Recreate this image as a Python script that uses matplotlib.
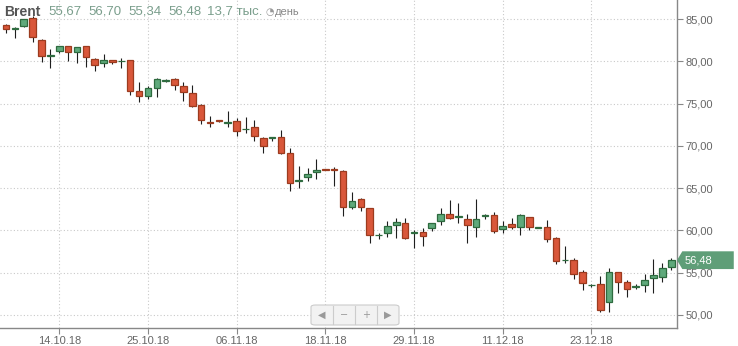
import numpy as np
import matplotlib.pyplot as plt
from matplotlib.patches import FancyBboxPatch, Polygon

# daily candles for Brent, oct-dec 2018 (one bar per trading day)
opens = [84.3, 83.8, 84.2, 85.1, 82.5, 80.6, 81.25, 81.8, 81.1, 81.8,
         80.3, 79.75, 80.15, 80.0, 80.15, 76.5, 75.95, 76.9, 77.7, 77.9,
         77.1, 76.3, 74.8, 72.85, 73.0, 72.75, 72.95, 71.95, 72.2, 70.95,
         70.95, 71.0, 69.1, 65.8, 66.3, 66.85, 67.3, 67.3, 67.05, 62.75,
         63.7, 62.6, 59.4, 59.65, 60.7, 60.85, 59.7, 59.8, 60.3, 61.1,
         61.9, 61.6, 61.35, 60.45, 61.7, 61.8, 60.15, 60.75, 60.45, 61.55,
         60.3, 60.4, 59.1, 56.45, 56.55, 55.1, 53.55, 53.7, 51.5, 55.05,
         53.95, 53.3, 53.6, 54.35, 54.55, 55.67]
highs = [84.4, 84.1, 85.0, 85.3, 82.6, 81.4, 81.8, 81.85, 81.7, 81.85,
         80.4, 80.85, 80.2, 80.4, 80.2, 77.5, 77.1, 78.0, 77.9, 78.0,
         77.5, 77.2, 75.0, 73.5, 73.05, 74.1, 73.3, 73.45, 73.0, 71.0,
         71.1, 71.9, 69.7, 67.6, 67.35, 68.45, 67.3, 67.5, 67.15, 64.6,
         63.8, 62.7, 59.65, 61.15, 61.45, 61.45, 60.1, 60.3, 60.85, 62.6,
         63.6, 63.3, 61.95, 63.7, 61.95, 62.2, 61.1, 61.45, 62.0, 61.6,
         60.4, 61.25, 59.2, 58.15, 56.7, 55.3, 53.7, 54.6, 55.5, 55.1,
         54.15, 53.65, 54.85, 56.6, 56.1, 56.70]
lows = [83.3, 82.7, 84.0, 82.3, 79.9, 79.2, 81.0, 80.0, 79.85, 79.3,
        78.85, 79.3, 79.7, 79.2, 76.0, 75.2, 75.5, 75.8, 77.5, 76.6,
        75.3, 74.6, 72.55, 72.25, 72.8, 72.25, 71.2, 71.5, 70.55, 69.2,
        70.6, 69.0, 64.7, 65.05, 65.9, 66.1, 67.2, 65.25, 61.75, 62.5,
        62.35, 58.5, 58.95, 59.2, 59.15, 58.95, 57.9, 58.1, 59.95, 60.7,
        61.3, 60.85, 58.5, 59.2, 61.4, 59.65, 59.65, 60.15, 59.4, 60.05,
        60.25, 58.65, 56.0, 56.1, 54.25, 52.95, 53.3, 50.4, 50.3, 52.65,
        52.1, 53.05, 52.7, 52.6, 53.95, 55.34]
closes = [83.8, 83.9, 85.0, 82.9, 80.6, 80.7, 81.8, 81.05, 81.65, 80.5,
          79.55, 80.1, 79.9, 80.05, 76.5, 75.95, 76.8, 77.9, 77.75, 77.15,
          76.4, 74.75, 73.0, 72.75, 72.9, 72.85, 71.8, 72.05, 71.2, 70.0,
          71.0, 69.1, 65.55, 65.95, 66.7, 67.15, 67.2, 67.2, 62.75, 63.5,
          62.75, 59.45, 59.5, 60.55, 61.05, 59.15, 59.8, 59.35, 60.85, 61.95,
          61.5, 61.7, 60.65, 61.4, 61.8, 59.95, 60.55, 60.4, 61.8, 60.45,
          60.35, 58.95, 56.35, 56.55, 54.8, 53.75, 53.6, 50.6, 55.1, 53.9,
          53.05, 53.4, 54.1, 54.75, 55.6, 56.48]

tick_idx = [6, 16, 26, 36, 46, 56, 66]
tick_labels = ['14.10.18', '25.10.18', '06.11.18', '18.11.18', '29.11.18', '11.12.18', '23.12.18']
price_ticks = [50, 55, 60, 65, 70, 75, 80, 85]

header_vals = ['55,67', '56,70', '55,34', '56,48']
volume_text = '13,7 тыс.'
last_label = '56,48'

up_fill, up_edge = '#5fa97b', '#2e6b3f'
dn_fill, dn_edge = '#d9573a', '#9c3b1f'
grey = '#666666'

plt.rcParams['font.family'] = ['Liberation Sans', 'DejaVu Sans']

fig = plt.figure(figsize=(7.38, 3.46), dpi=100)
ax = fig.add_axes([0, 18/346, 677/738, 328/346])

x = np.arange(len(opens))
o, h, l, c = map(np.array, (opens, highs, lows, closes))
up = c >= o

ax.vlines(x, l, h, color='#1e1e1e', lw=0.8, zorder=2)
body_lo = np.minimum(o, c)
body_h = np.maximum(np.abs(c - o), 0.05)
ax.bar(x[up], body_h[up], bottom=body_lo[up], width=0.74,
       color=up_fill, edgecolor=up_edge, lw=0.9, zorder=3)
ax.bar(x[~up], body_h[~up], bottom=body_lo[~up], width=0.74,
       color=dn_fill, edgecolor=dn_edge, lw=0.9, zorder=3)

ax.set_xlim(-0.68, 75.65)
ax.set_ylim(48.46, 87.25)

ax.set_xticks(tick_idx)
ax.set_xticklabels(tick_labels)
ax.yaxis.tick_right()
ax.set_yticks(price_ticks)
ax.set_yticklabels([f'{p:.2f}'.replace('.', ',') for p in price_ticks])
ax.tick_params(axis='both', colors='#888888', labelcolor=grey, labelsize=8, length=4, width=0.8, pad=2)

ax.grid(True, color='#c9c9c9', linestyle=(0, (1, 2)), lw=0.8)
ax.set_axisbelow(True)
for s in ['top', 'left']:
    ax.spines[s].set_visible(False)
for s in ['bottom', 'right']:
    ax.spines[s].set_color('#888888')
    ax.spines[s].set_linewidth(1)

# header line
fig.text(4/738, 1 - 12/346, 'Brent', fontsize=10, fontweight='bold', color='#555555', va='center')
hx = [48, 88, 128, 168]
for px, val in zip(hx, header_vals):
    fig.text(px/738, 1 - 12/346, val, fontsize=9.5, color='#7a9e8c', va='center')
fig.text(207/738, 1 - 12/346, volume_text, fontsize=9.5, color='#7a9e8c', va='center')
fig.text(265/738, 1 - 12/346, '◔', fontsize=7, color='#999999', va='center', family=['DejaVu Sans'])
fig.text(275/738, 1 - 12/346, 'день', fontsize=8, color='#888888', va='center')

# last price marker on the right axis
yl = closes[-1]
ax.add_patch(Polygon([(75.65 + 0.0, yl), (75.65 + 0.6, yl + 1.05), (75.65 + 6.4, yl + 1.05),
                      (75.65 + 6.4, yl - 1.05), (75.65 + 0.6, yl - 1.05)],
                     closed=True, facecolor='#5f9e78', edgecolor='none', clip_on=False, zorder=5))
ax.text(75.65 + 0.9, yl, last_label, color='white', fontsize=8, va='center', ha='left', zorder=6)

# navigation buttons
nav = FancyBboxPatch((311/738, 1 - 325/346), 88/738, 20/346,
                     boxstyle='round,pad=0,rounding_size=0.006', transform=fig.transFigure,
                     facecolor='#f2f2f2', edgecolor='#cccccc', lw=0.8)
fig.patches.append(nav)
for px in [333, 355, 377]:
    fig.add_artist(plt.Line2D([px/738, px/738], [1 - 324/346, 1 - 306/346], color='#cccccc', lw=0.8))
for px, s in zip([322, 344, 366, 388], ['◀', '−', '+', '▶']):
    fig.text(px/738, 1 - 315/346, s, fontsize=7, color='#999999', ha='center', va='center',
             family=['DejaVu Sans'])

plt.savefig('out.png', dpi=100)
